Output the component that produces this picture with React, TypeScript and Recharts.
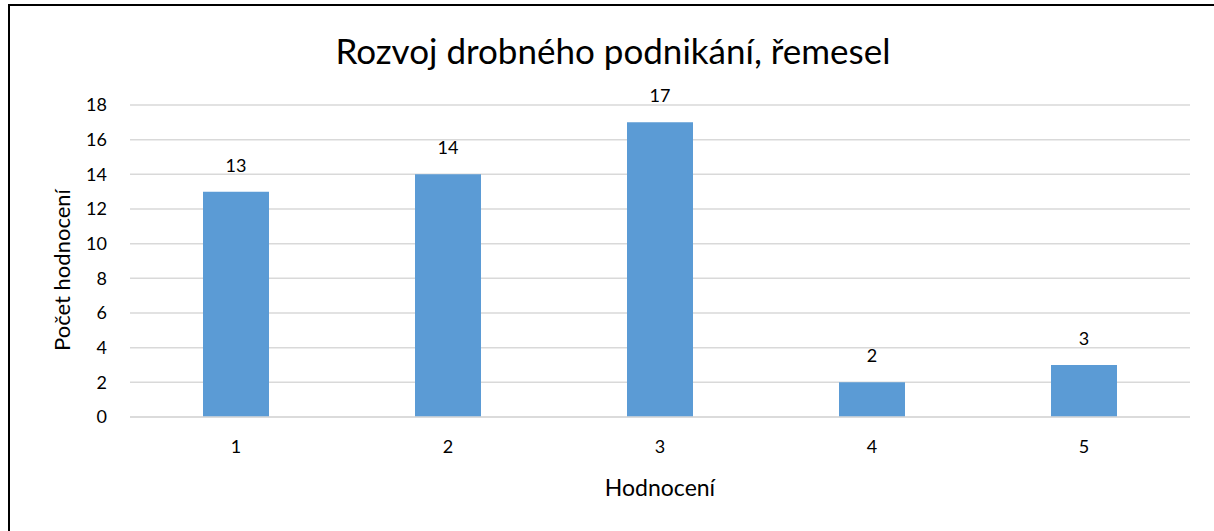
import React from "react";
import { BarChart, Bar, XAxis, YAxis, CartesianGrid, LabelList } from "recharts";

const categories = ["1", "2", "3", "4", "5"];
const counts = [13, 14, 17, 2, 3];
const yTicks = [0, 2, 4, 6, 8, 10, 12, 14, 16, 18];

const data = categories.map((c, i) => ({ name: c, value: counts[i] }));

const font = "Lato, 'Open Sans', sans-serif";

export default function App() {
  return (
    <div style={{ position: "absolute", left: 0, top: 0, width: 1214, height: 531, background: "#fff", fontFamily: font }}>
      <div
        style={{
          position: "absolute",
          left: 8,
          top: 4,
          width: 1220,
          height: 540,
          borderTop: "2px solid #000",
          borderLeft: "2px solid #000",
        }}
      />
      <div
        style={{
          position: "absolute",
          left: 0,
          top: 29,
          width: 1226,
          textAlign: "center",
          fontSize: 35,
          color: "#000",
          lineHeight: "42px",
        }}
      >
        Rozvoj drobného podnikání, řemesel
      </div>
      <div
        style={{
          position: "absolute",
          left: 62 - 100,
          top: 270 - 14,
          width: 200,
          height: 28,
          lineHeight: "28px",
          textAlign: "center",
          fontSize: 22,
          transform: "rotate(-90deg)",
        }}
      >
        Počet hodnocení
      </div>
      <div
        style={{
          position: "absolute",
          left: 130,
          top: 473,
          width: 1060,
          textAlign: "center",
          fontSize: 23,
          lineHeight: "28px",
        }}
      >
        Hodnocení
      </div>
      <div style={{ position: "absolute", left: 0, top: 0 }}>
        <BarChart
          width={1214}
          height={531}
          data={data}
          margin={{ top: 105, right: 24, bottom: 84, left: 30 }}
        >
          <CartesianGrid vertical={false} stroke="#d9d9d9" strokeWidth={1.5} />
          <XAxis
            dataKey="name"
            tickLine={false}
            axisLine={{ stroke: "#d9d9d9", strokeWidth: 1.5 }}
            tickSize={0}
            tickMargin={23}
            height={30}
            tick={{ fill: "#000", fontSize: 18, fontFamily: font }}
          />
          <YAxis
            domain={[0, 18]}
            ticks={yTicks}
            interval={0}
            width={100}
            tickLine={false}
            axisLine={false}
            tickSize={0}
            tickMargin={23}
            tick={{ fill: "#000", fontSize: 18, fontFamily: font }}
          />
          <Bar dataKey="value" fill="#5b9bd5" barSize={66} isAnimationActive={false}>
            <LabelList
              dataKey="value"
              position="top"
              offset={20}
              style={{ fill: "#000", fontSize: 18, fontFamily: font }}
            />
          </Bar>
        </BarChart>
      </div>
    </div>
  );
}
